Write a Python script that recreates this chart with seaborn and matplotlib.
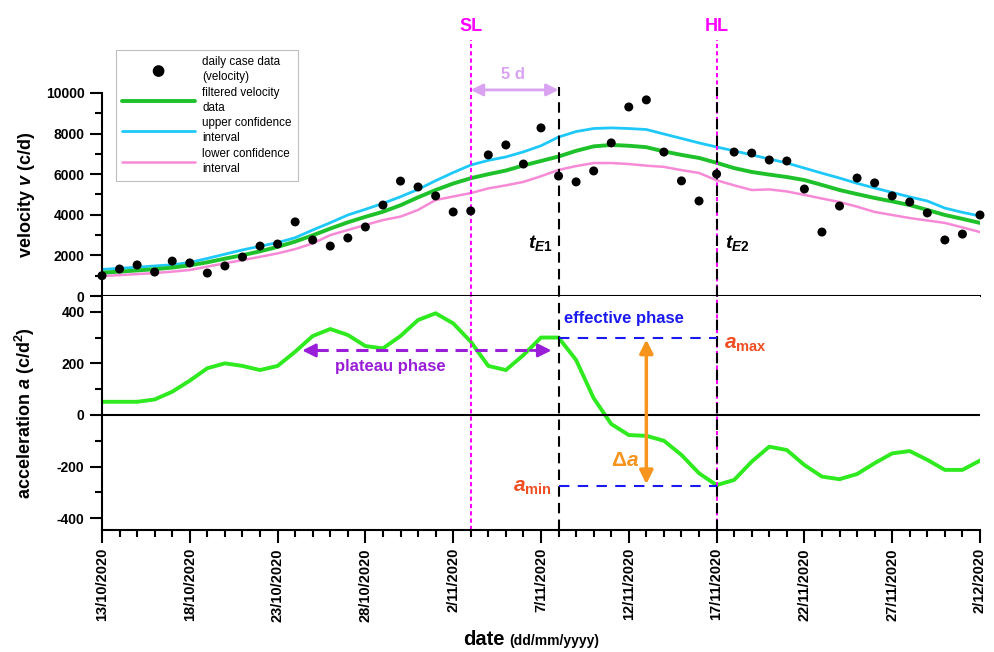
import matplotlib
matplotlib.use("Agg")
import matplotlib.pyplot as plt
import matplotlib.dates as mdates
import matplotlib.transforms as mtrans
from matplotlib.ticker import FixedLocator, FuncFormatter, MultipleLocator
import numpy as np
import pandas as pd
import seaborn as sns

# ---- data (one value per day, 13/10/2020 .. 2/12/2020) ----
start = pd.Timestamp("2020-10-13")
days = pd.date_range(start, periods=51, freq="D")

velocity_daily = [1000, 1330, 1530, 1180, 1720, 1630, 1130, 1480, 1920, 2460,
                  2560, 3650, 2760, 2460, 2860, 3400, 4480, 5660, 5370, 4930,
                  4140, 4190, 6950, 7440, 6500, 8280, 5910, 5620, 6160, 7540,
                  9310, 9660, 7090, 5670, 4680, 6010, 7090, 7040, 6700, 6650,
                  5270, 3150, 4430, 5810, 5570, 4930, 4630, 4090, 2760, 3050,
                  3990]
velocity_filtered = [1150, 1200, 1260, 1320, 1400, 1510, 1660, 1840, 2010, 2200,
                     2420, 2680, 2990, 3320, 3630, 3900, 4150, 4470, 4860, 5220,
                     5540, 5800, 6000, 6180, 6430, 6650, 6870, 7150, 7370, 7440,
                     7400, 7330, 7120, 6950, 6800, 6560, 6300, 6110, 5980, 5860,
                     5710, 5470, 5220, 5020, 4830, 4660, 4480, 4240, 3990, 3800,
                     3600]
upper_ci = [1310, 1360, 1420, 1480, 1540, 1650, 1850, 2060, 2270, 2450,
            2630, 2870, 3250, 3610, 3990, 4270, 4560, 4890, 5250, 5680,
            6080, 6450, 6680, 6850, 7100, 7400, 7830, 8100, 8250, 8280,
            8250, 8200, 7980, 7760, 7540, 7340, 7150, 6950, 6750, 6550,
            6300, 6050, 5810, 5550, 5320, 5100, 4880, 4680, 4330, 4120,
            3940]
lower_ci = [985, 1030, 1080, 1130, 1200, 1280, 1450, 1610, 1770, 1930,
            2100, 2310, 2590, 3000, 3250, 3500, 3740, 3910, 4240, 4730,
            4900, 5070, 5300, 5450, 5620, 5900, 6210, 6400, 6550, 6550,
            6500, 6420, 6360, 6200, 6060, 5700, 5450, 5220, 5250, 5150,
            4980, 4800, 4630, 4400, 4140, 3990, 3840, 3720, 3600, 3380,
            3150]
acceleration = [51, 51, 51, 60, 90, 133, 181, 200, 190, 174,
                190, 245, 306, 333, 310, 267, 258, 306, 368, 394,
                355, 284, 190, 174, 232, 300, 300, 213, 65, -35,
                -78, -81, -100, -155, -226, -272, -252, -181, -123, -136,
                -194, -239, -249, -229, -187, -149, -140, -174, -213, -213,
                -177]

# event days (offset from 13/10/2020)
sl_day, te1_day, hl_day = 21, 26, 35
a_max, a_min = 300, -275

df = pd.DataFrame({"date": days, "daily": velocity_daily, "filtered": velocity_filtered,
                   "upper": upper_ci, "lower": lower_ci, "acc": acceleration})


def dn(d):
    return mdates.date2num(start + pd.Timedelta(days=d))


sns.set_style("ticks")
plt.rcParams["font.family"] = ["Liberation Sans", "DejaVu Sans"]
plt.rcParams["mathtext.fontset"] = "custom"
plt.rcParams["mathtext.it"] = "Liberation Sans:italic:bold"
plt.rcParams["mathtext.rm"] = "Liberation Sans:bold"
plt.rcParams["mathtext.bf"] = "Liberation Sans:bold"
plt.rcParams["axes.unicode_minus"] = False
for k in ["axes.edgecolor", "text.color", "xtick.color", "ytick.color", "axes.labelcolor"]:
    plt.rcParams[k] = "black"

fig = plt.figure(figsize=(9.94, 6.52), dpi=100)
ax1 = fig.add_axes([0.1026, 0.5460, 0.8833, 0.3114])
ax2 = fig.add_axes([0.1026, 0.1871, 0.8833, 0.3589], sharex=ax1)

GREEN = "#1FC12A"
CYAN = "#1EC8F8"
PINK = "#F78AD6"
ACC = "#2EEA1E"
MAGENTA = "#FF00FF"

# ---- velocity panel ----
sns.lineplot(data=df, x="date", y="lower", ax=ax1, color=PINK, lw=1.8, label="lower confidence\ninterval")
sns.lineplot(data=df, x="date", y="upper", ax=ax1, color=CYAN, lw=2.0, label="upper confidence\ninterval")
sns.lineplot(data=df, x="date", y="filtered", ax=ax1, color=GREEN, lw=2.8, label="filtered velocity\ndata")
sns.scatterplot(data=df, x="date", y="daily", ax=ax1, color="black", s=42, edgecolor="none",
                zorder=5, clip_on=False, label="daily case data\n(velocity)")

ax1.set_ylim(0, 10000)
ax1.yaxis.set_major_locator(MultipleLocator(2000))
ax1.yaxis.set_minor_locator(MultipleLocator(1000))
ax1.set_ylabel(r"velocity $v$ (c/d)", fontsize=13, fontweight="bold")
ax1.set_xlabel("")
ax1.tick_params(axis="x", which="both", bottom=False, labelbottom=False)
for s in ["top", "right"]:
    ax1.spines[s].set_visible(False)

handles, labels = ax1.get_legend_handles_labels()
order = [3, 2, 1, 0]
leg = ax1.legend([handles[i] for i in order], [labels[i] for i in order], loc="upper left",
                 bbox_to_anchor=(0.1167, 0.923), bbox_transform=fig.transFigure, fontsize=8.4,
                 frameon=True, fancybox=False, edgecolor="#B0B0B0", handlelength=6.3,
                 borderaxespad=0, labelspacing=0.3, handletextpad=0.6, borderpad=0.5,
                 markerscale=1.3)
leg.get_frame().set_linewidth(0.8)
for t in leg.get_texts():
    t.set_linespacing(1.35)

# ---- acceleration panel ----
sns.lineplot(data=df, x="date", y="acc", ax=ax2, color=ACC, lw=2.8)
ax2.axhline(0, color="black", lw=1.5)
ax2.set_ylim(-446, 461)
ax2.set_yticks([-400, -200, 0, 200, 400])
ax2.yaxis.set_minor_locator(MultipleLocator(100))
ax2.set_ylabel(r"acceleration $a$ (c/d$^2$)", fontsize=13, fontweight="bold")
ax2.set_xlabel("")
for s in ["top", "right"]:
    ax2.spines[s].set_visible(False)

ax2.set_xlim(days[0], days[-1])
ax2.xaxis.set_major_locator(FixedLocator(mdates.date2num(days[::5])))
ax2.xaxis.set_minor_locator(FixedLocator(mdates.date2num(days)))


def fmt_date(v, pos):
    d = mdates.num2date(v)
    return f"{d.day}/{d.month}/{d.year}"


ax2.xaxis.set_major_formatter(FuncFormatter(fmt_date))
for lab in ax2.get_xticklabels():
    lab.set_rotation(90)

for ax in (ax1, ax2):
    ax.tick_params(which="major", length=9, width=1.5, labelsize=10)
    ax.tick_params(which="minor", length=5, width=1.5)
    for s in ["left", "bottom"]:
        ax.spines[s].set_linewidth(1.5)
    for lab in ax.get_yticklabels() + ax.get_xticklabels():
        lab.set_fontweight("bold")
    ax.yaxis.set_label_coords(-0.074, 0.5)
ax2.tick_params(axis="x", which="major", labelsize=10.5, pad=4)

# ---- vertical event lines ----
for d, label in [(sl_day, "SL"), (hl_day, "HL")]:
    ax1.axvline(dn(d), ymin=0, ymax=1.261, color=MAGENTA, ls=(0, (2, 1.5)), lw=1.5, clip_on=False, zorder=2)
    ax2.axvline(dn(d), color=MAGENTA, ls=(0, (2, 1.5)), lw=1.5, zorder=2)
    ax1.text(dn(d), 1.325, label, transform=mtrans.blended_transform_factory(ax1.transData, ax1.transAxes),
             ha="center", va="center", color=MAGENTA, fontsize=13, fontweight="bold")
for d in (te1_day, hl_day):
    ax1.axvline(dn(d), ymin=0, ymax=1.03, color="black", ls=(0, (5, 3)), lw=1.5, clip_on=False, zorder=2)
    ax2.axvline(dn(d), color="black", ls=(0, (5, 3)), lw=1.5, zorder=2)

ax1.text(dn(25.7), 2600, r"$t_{E1}$", ha="right", va="center", fontsize=14)
ax1.text(dn(35.5), 2600, r"$t_{E2}$", ha="left", va="center", fontsize=14)

# 5 d arrow
LAV = "#D9A3F2"
ax1.annotate("", xy=(dn(te1_day), 10150), xytext=(dn(sl_day), 10150), annotation_clip=False,
             arrowprops=dict(arrowstyle="<|-|>", color=LAV, lw=2, mutation_scale=18, shrinkA=0, shrinkB=0))
ax1.text(dn(23.4), 10900, "5 d", ha="center", va="center", color=LAV, fontsize=12, fontweight="bold",
         clip_on=False)

# plateau phase arrow
PURPLE = "#9A1ED8"
ax2.plot([dn(12.2), dn(24.8)], [250, 250], color=PURPLE, lw=2.2, ls=(0, (4, 2.5)))
ax2.annotate("", xy=(dn(11.4), 250), xytext=(dn(12.6), 250),
             arrowprops=dict(arrowstyle="-|>", color=PURPLE, lw=2, mutation_scale=20, shrinkA=0, shrinkB=0))
ax2.annotate("", xy=(dn(25.6), 250), xytext=(dn(24.4), 250),
             arrowprops=dict(arrowstyle="-|>", color=PURPLE, lw=2, mutation_scale=20, shrinkA=0, shrinkB=0))
ax2.text(dn(16.4), 187, "plateau phase", ha="center", va="center", color=PURPLE, fontsize=12, fontweight="bold")

# effective phase
BLUE = "#1A1AF0"
ax2.plot([dn(te1_day), dn(hl_day)], [a_max, a_max], color=BLUE, lw=1.5, ls=(0, (5, 4)))
ax2.plot([dn(te1_day), dn(hl_day)], [a_min, a_min], color=BLUE, lw=1.5, ls=(0, (5, 4)))
ax2.text(dn(26.3), 375, "effective phase", ha="left", va="center", color=BLUE, fontsize=12, fontweight="bold")

ORANGE = "#F7941D"
RED = "#F04E23"
ax2.annotate("", xy=(dn(31), -268), xytext=(dn(31), 292),
             arrowprops=dict(arrowstyle="<|-|>", color=ORANGE, lw=2.5, mutation_scale=20, shrinkA=0, shrinkB=0))
ax2.text(dn(29.8), -175, r"$\Delta a$", ha="center", va="center", color=ORANGE, fontsize=15)
ax2.text(dn(35.4), 272, r"$a_{\mathrm{max}}$", ha="left", va="center", color=RED, fontsize=15)
ax2.text(dn(25.6), -283, r"$a_{\mathrm{min}}$", ha="right", va="center", color=RED, fontsize=15)

# x label
fig.text(0.508, 0.011, "date", ha="right", va="baseline", fontsize=14.5, fontweight="bold")
fig.text(0.512, 0.011, "(dd/mm/yyyy)", ha="left", va="baseline", fontsize=10, fontweight="bold")

fig.savefig("out.png", dpi=100)
